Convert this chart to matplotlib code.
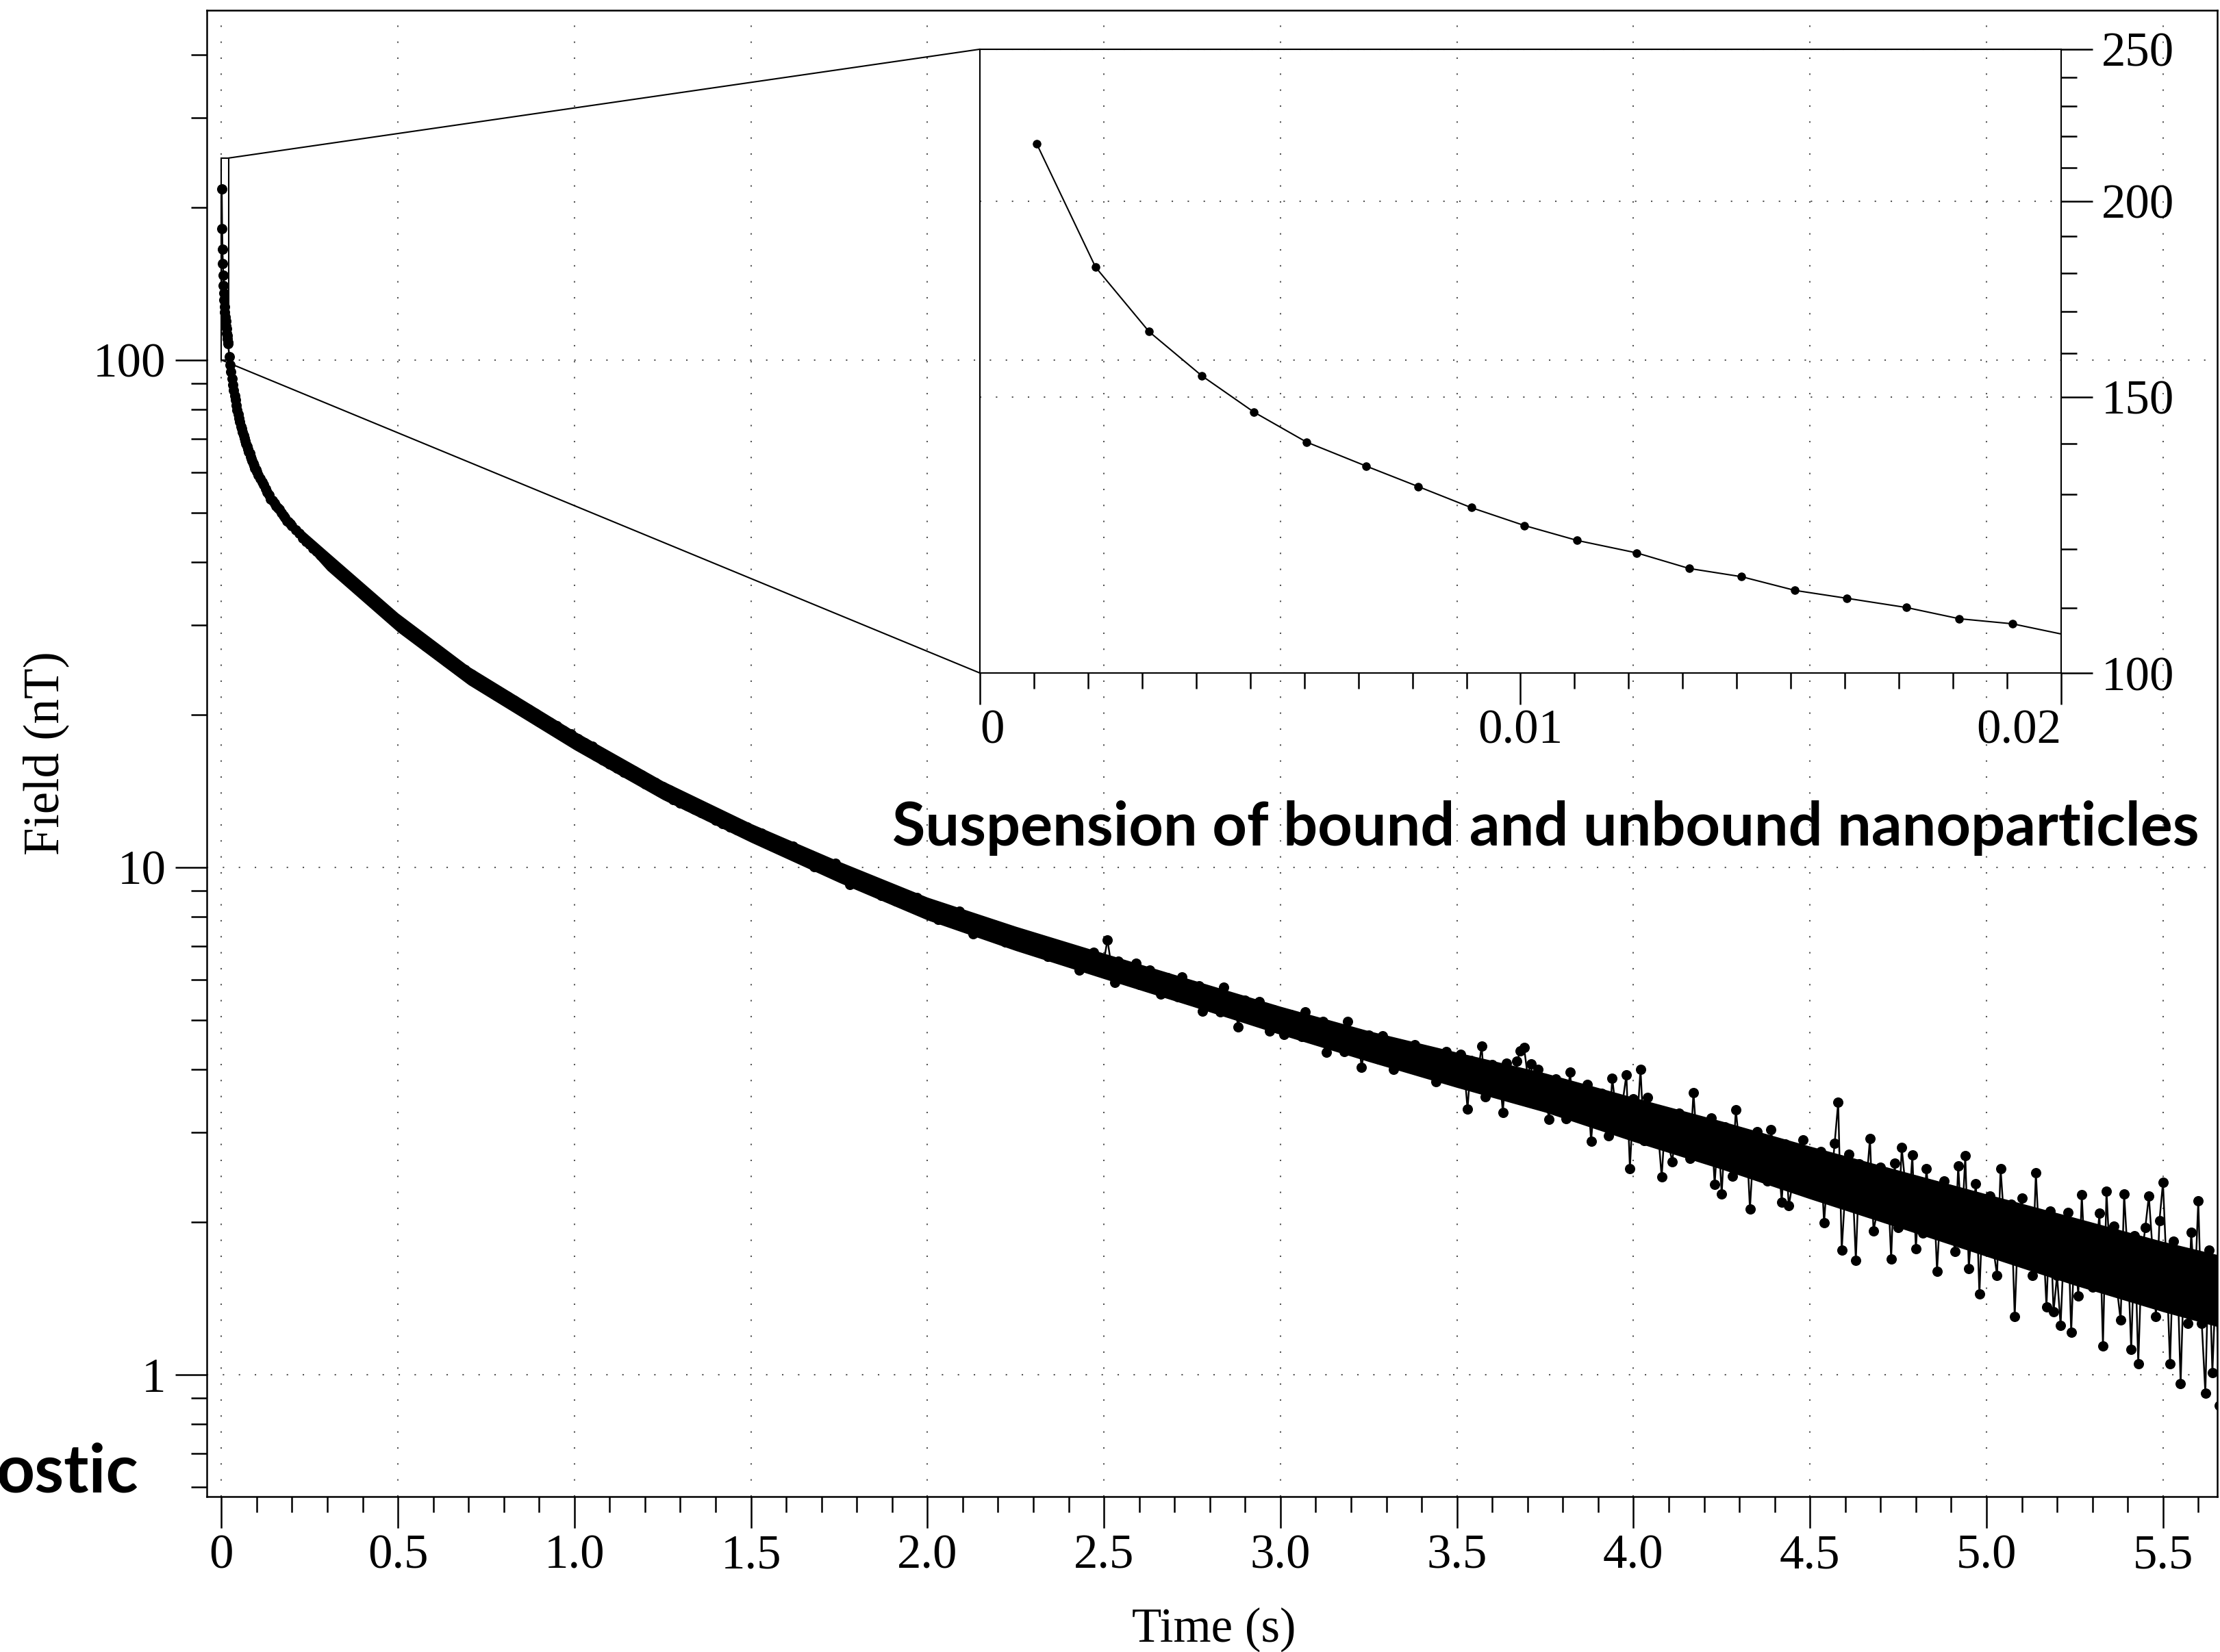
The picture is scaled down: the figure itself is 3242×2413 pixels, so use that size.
import numpy as np
import matplotlib
matplotlib.use("Agg")
import matplotlib.pyplot as plt
from matplotlib.patches import Rectangle, ConnectionPatch
from matplotlib.ticker import MultipleLocator, FixedLocator, NullFormatter, LogLocator

plt.rcParams["font.family"] = ["Liberation Serif", "DejaVu Serif"]

# first 20 ms
t_first = [0.00105, 0.00214, 0.00313, 0.00411, 0.00507, 0.00604, 0.00715, 0.00811,
           0.00909, 0.01007, 0.01105, 0.01215, 0.01312, 0.01409, 0.01508, 0.01604,
           0.01714, 0.01812, 0.0191]
field_first = [217.6, 181.5, 165.1, 154.7, 146.7, 140.4, 135.5, 131.5, 127.5, 124.2,
               121.5, 119.3, 116.6, 115.2, 112.9, 111.6, 110.1, 108.3, 107.5]

# 22.5 ms .. 100 ms, every 2.5 ms
field_early = [101.6, 97.9, 94.7, 91.9, 89.4, 87.1, 85.0, 83.4, 81.3, 79.7,
               78.2, 76.8, 75.5, 74.0, 73.2, 72.1, 71.1, 70.1, 69.2, 68.3,
               67.5, 66.7, 65.9, 65.5, 64.5, 63.8, 63.2, 62.6, 62.0, 61.1,
               60.8, 60.3]

# 105 ms .. 200 ms, every 5 ms
field_mid = [59.3, 58.3, 57.4, 56.8, 55.7, 54.9, 54.2, 53.2, 52.8, 52.2,
             51.6, 51.0, 50.8, 49.9, 49.4, 48.9, 48.2, 48.0, 47.5, 47.1]

# 0.21 s .. 1.50 s, every 10 ms
field_slow = [
    46.3, 45.5, 44.6, 43.9, 43.3, 42.5, 42.0, 41.2, 40.8, 40.1,
    39.7, 38.9, 38.5, 37.8, 37.5, 36.7, 36.4, 35.7, 35.4, 34.7,
    34.5, 33.7, 33.6, 32.8, 32.7, 31.9, 31.8, 31.0, 31.0, 30.2,
    30.2, 29.4, 29.5, 28.7, 28.8, 28.0, 28.1, 27.3, 27.4, 26.6,
    26.8, 26.0, 26.2, 25.4, 25.6, 24.8, 25.0, 24.3, 24.5, 23.7,
    24.0, 23.2, 23.4, 22.7, 23.0, 22.3, 22.5, 21.8, 22.1, 21.4,
    21.7, 21.0, 21.3, 20.6, 20.9, 20.2, 20.5, 19.8, 20.1, 19.4,
    19.7, 19.0, 19.3, 18.7, 19.0, 18.3, 18.6, 18.0, 18.3, 17.6,
    17.9, 17.3, 17.6, 17.0, 17.3, 16.6, 16.9, 16.3, 16.6, 16.0,
    16.3, 15.7, 16.0, 15.4, 15.7, 15.2, 15.5, 14.9, 15.2, 14.6,
    14.9, 14.4, 14.7, 14.1, 14.4, 13.9, 14.2, 13.6, 13.9, 13.4,
    13.7, 13.2, 13.5, 13.0, 13.3, 12.8, 13.1, 12.6, 12.9, 12.4,
    12.7, 12.2, 12.5, 12.0, 12.3, 11.85, 12.15, 11.7, 12.0, 11.55]

# 1.51 s .. 5.66 s, every 10 ms
field_tail = [
    11.68, 11.41, 11.66, 11.35, 11.41, 11.0, 11.16, 11.21, 10.89, 10.95,
    10.66, 11.0, 10.62, 10.68, 10.41, 10.45, 10.56, 10.02, 10.32, 10.14,
    10.22, 9.91, 9.75, 10.17, 9.83, 9.66, 9.78, 9.25, 9.57, 9.62,
    9.35, 9.42, 9.12, 9.42, 9.12, 9.12, 8.79, 9.11, 8.97, 8.73,
    8.57, 8.76, 8.84, 8.54, 8.62, 8.36, 8.72, 8.35, 8.43, 8.18,
    8.26, 8.39, 7.88, 8.21, 8.06, 8.17, 7.88, 7.75, 8.2, 7.88,
    7.74, 7.89, 7.39, 7.74, 7.82, 7.57, 7.66, 7.38, 7.70, 7.42,
    7.44, 7.13, 7.47, 7.35, 7.13, 7.27, 7.04, 7.33, 7.06, 7.16,
    6.90, 7.04, 7.08, 6.67, 6.91, 6.81, 7.02, 6.62, 6.83, 6.66,
    6.84, 6.69, 6.27, 6.70, 6.48, 6.55, 6.79, 6.27, 6.33, 6.54,
    7.2, 6.46, 5.93, 6.52, 6.25, 6.06, 6.29, 6.08, 6.47, 5.88,
    6.15, 5.86, 6.27, 5.94, 6.09, 5.62, 5.91, 6.06, 5.71, 5.86,
    5.55, 6.08, 5.64, 5.79, 5.50, 5.63, 5.84, 5.20, 5.67, 5.50,
    5.67, 5.33, 5.18, 5.81, 5.43, 5.26, 5.49, 4.84, 5.34, 5.47,
    5.17, 5.32, 4.98, 5.43, 5.09, 5.14, 4.76, 5.23, 5.11, 4.84,
    4.68, 4.97, 5.13, 4.79, 4.95, 4.64, 5.18, 4.74, 4.89, 4.61,
    4.75, 4.97, 4.32, 4.80, 4.64, 4.82, 4.48, 4.33, 4.97, 4.59,
    4.43, 4.67, 4.03, 4.53, 4.67, 4.37, 4.53, 4.19, 4.65, 4.31,
    4.37, 3.99, 4.48, 4.36, 4.10, 4.32, 4.04, 4.47, 4.15, 4.31,
    3.99, 4.22, 4.30, 3.78, 4.13, 4.03, 4.33, 3.83, 4.14, 3.94,
    4.28, 4.05, 3.34, 4.16, 3.79, 3.96, 4.44, 3.53, 3.68, 4.09,
    3.81, 3.98, 3.29, 4.11, 3.78, 3.54, 4.15, 4.35, 4.42, 3.9,
    4.1, 3.42, 4.0, 3.58, 3.80, 3.19, 3.60, 3.83, 3.38, 3.60,
    3.20, 3.95, 3.36, 3.59, 3.22, 3.42, 3.73, 2.88, 3.54, 3.33,
    3.58, 3.14, 2.96, 3.84, 3.33, 3.13, 3.47, 3.9, 2.55, 3.50,
    3.10, 4.0, 2.89, 3.52, 3.07, 3.16, 3.0, 2.45, 3.18, 2.83,
    2.63, 3.05, 3.28, 2.84, 3.07, 2.67, 3.6, 2.84, 3.07, 2.70,
    2.91, 3.21, 2.37, 3.02, 2.27, 3.08, 2.63, 2.46, 3.33, 2.83,
    2.63, 2.97, 2.12, 2.81, 3.01, 2.62, 2.85, 2.41, 3.04, 2.60,
    2.69, 2.19, 2.85, 2.15, 2.37, 2.68, 2.32, 2.90, 2.48, 2.71,
    2.27, 2.62, 2.75, 1.99, 2.52, 2.39, 2.86, 3.44, 1.76, 2.31,
    2.72, 2.47, 1.68, 2.60, 2.20, 2.39, 2.92, 1.92, 2.09, 2.56,
    2.25, 2.45, 1.69, 2.61, 1.95, 2.8, 2.37, 2.09, 2.71, 1.77,
    2.30, 1.90, 2.55, 2.09, 2.35, 1.60, 2.15, 2.41, 1.92, 2.18,
    1.75, 2.58, 1.94, 2.7, 1.62, 2.03, 2.38, 1.44, 2.18, 1.96,
    2.25, 1.76, 1.57, 2.55, 2.01, 1.79, 2.17, 1.30, 2.00, 2.23,
    1.80, 2.06, 1.57, 2.5, 1.80, 1.91, 1.36, 2.10, 1.33, 1.57,
    1.25, 1.82, 2.09, 1.21, 1.86, 1.43, 2.26, 1.63, 1.89, 1.49,
    1.72, 2.08, 1.14, 2.3, 1.67, 1.96, 1.47, 1.28, 2.27, 1.72,
    1.12, 1.88, 1.05, 1.72, 1.95, 2.25, 1.78, 1.30, 2.01, 2.39,
    1.63, 1.05, 1.83, 1.67, 0.96, 1.66, 1.26, 1.91, 1.46, 2.2,
    1.26, 0.92, 1.76, 1.01, 1.54, 0.87]

# solid core of the densely sampled trace (where the points overlap)
core_t = [0.2, 0.3, 0.5, 0.7, 1.0, 1.25, 1.5, 1.75, 2.0, 2.25, 2.5, 2.75, 3.0,
          3.25, 3.5, 3.75, 4.0, 4.25, 4.5, 4.75, 5.0, 5.25, 5.5, 5.66]
core_low = [46.0, 38.5, 29.1, 22.9, 17.05, 13.6, 11.2, 9.33, 7.87, 6.85, 6.03, 5.32, 4.68,
            4.14, 3.68, 3.29, 2.88, 2.54, 2.22, 1.95, 1.71, 1.50, 1.33, 1.24]
core_high = [48.2, 41.9, 31.7, 24.9, 18.55, 14.8, 12.2, 10.27, 8.73, 7.65, 6.77, 6.0, 5.32,
             4.76, 4.32, 3.93, 3.52, 3.16, 2.82, 2.53, 2.27, 2.04, 1.83, 1.72]

# sampling of each block: (first time, step)
t_early = 0.0225 + 0.0025 * np.arange(len(field_early))
t_mid = 0.105 + 0.005 * np.arange(len(field_mid))
t_slow = 0.21 + 0.01 * np.arange(len(field_slow))
t_tail = 1.51 + 0.01 * np.arange(len(field_tail))

time = np.concatenate([t_first, t_early, t_mid, t_slow, t_tail])
field = np.concatenate([field_first, field_early, field_mid, field_slow, field_tail])

x_ticks = [0, 0.5, 1.0, 1.5, 2.0, 2.5, 3.0, 3.5, 4.0, 4.5, 5.0, 5.5]
x_labels = ["0", "0.5", "1.0", "1.5", "2.0", "2.5", "3.0", "3.5", "4.0", "4.5", "5.0", "5.5"]
y_ticks = [1, 10, 100]
y_labels = ["1", "10", "100"]

in_x_ticks = [0, 0.01, 0.02]
in_x_labels = ["0", "0.01", "0.02"]
in_y_ticks = [100, 150, 200, 250]
in_y_labels = ["100", "150", "200", "250"]
in_y_minor = [110, 120, 130, 140, 160, 170, 180, 190, 210, 220, 230, 240]

grid_style = dict(color="#555555", linewidth=0.5, linestyle=(0, (1, 10.2)))
fs = 17

fig = plt.figure(figsize=(3242 / 300, 2413 / 300), dpi=300)
ax = fig.add_axes([0.0932, 0.0941, 0.9056, 0.8997])

ax.fill_between(core_t, core_low, core_high, color="black", lw=0, zorder=2.5)
ax.plot(time, field, color="black", lw=0.6, marker="o", ms=3.3, mew=0.3,
        mfc="black", mec="black", zorder=3)

ax.set_yscale("log")
ax.set_xlim(-0.041, 5.654)
ax.set_ylim(0.575, 489)
ax.set_xticks(x_ticks)
ax.set_xticklabels(x_labels)
ax.xaxis.set_minor_locator(MultipleLocator(0.1))
ax.set_yticks(y_ticks)
ax.set_yticklabels(y_labels)
ax.yaxis.set_minor_locator(LogLocator(base=10, subs=np.arange(2, 10)))
ax.yaxis.set_minor_formatter(NullFormatter())
ax.tick_params(which="both", direction="out", width=0.6, labelsize=fs, colors="black")
ax.tick_params(which="major", length=11)
ax.tick_params(which="minor", length=5.5)
ax.tick_params(axis="x", pad=2)
ax.tick_params(axis="y", pad=3.3)
ax.grid(True, which="major", **grid_style)
for s in ax.spines.values():
    s.set_linewidth(0.6)

ax.set_xlabel("Time (s)", fontsize=fs)
ax.set_ylabel("Field (nT)", fontsize=17.5)
ax.xaxis.set_label_coords(0.501, -0.0745)
ax.yaxis.set_label_coords(-0.0685, 0.5)

# zoom box on main axes
ax.add_patch(Rectangle((0, 100), 0.02, 150, fill=False, edgecolor="black", lw=0.5, zorder=4))

# inset
axins = fig.add_axes([0.4414, 0.5926, 0.4870, 0.3776])
axins.set_facecolor("none")
axins.plot(time, field, color="black", lw=0.5, marker="o", ms=2.7, mew=0.3,
           mfc="black", mec="black")
axins.set_yscale("log")
axins.set_xlim(0, 0.02)
axins.set_ylim(100, 250)
axins.set_xticks(in_x_ticks)
axins.set_xticklabels(in_x_labels)
axins.xaxis.set_minor_locator(MultipleLocator(0.001))
axins.set_yticks(in_y_ticks)
axins.set_yticklabels(in_y_labels)
axins.yaxis.set_minor_locator(FixedLocator(in_y_minor))
axins.yaxis.set_minor_formatter(NullFormatter())
axins.yaxis.tick_right()
axins.tick_params(which="both", direction="out", width=0.6, labelsize=fs)
axins.tick_params(which="major", length=11)
axins.tick_params(which="minor", length=5.5)
axins.tick_params(axis="x", pad=1.5)
axins.tick_params(axis="y", pad=3.1)
axins.grid(True, axis="y", which="major", **grid_style)
for s in axins.spines.values():
    s.set_linewidth(0.5)
xl = axins.get_xticklabels()
xl[0].set_ha("left")
xl[-1].set_ha("right")

for xa, xb in [((0.02, 250), (0, 1)), ((0, 100), (0, 0))]:
    con = ConnectionPatch(xyA=xa, coordsA=ax.transData, xyB=xb, coordsB=axins.transAxes,
                          color="black", lw=0.5)
    fig.add_artist(con)

fig.text(1303 / 3242, 1 - 1235 / 2413, "Suspension of bound and unbound nanoparticles",
         family=["Lato", "DejaVu Sans"], fontweight="bold", fontsize=21.2,
         ha="left", va="baseline")
fig.text(202 / 3242, 1 - 2180 / 2413, "ostic", family=["Lato", "DejaVu Sans"],
         fontweight="bold", fontsize=23.5, ha="right", va="baseline")

fig.savefig("out.png", dpi=300)
